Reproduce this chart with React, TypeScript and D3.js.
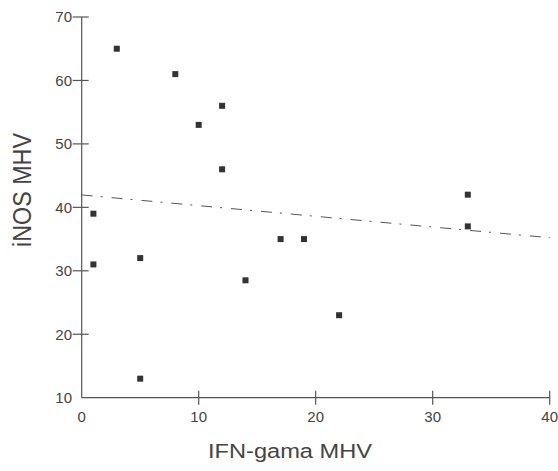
import React from 'react';
import * as d3 from 'd3';

// IFN-gama MHV (x) vs iNOS MHV (y)
const ifnGama = [3, 8, 12, 10, 12, 1, 1, 5, 5, 14, 17, 19, 22, 33, 33];
const inos = [65, 61, 56, 53, 46, 39, 31, 32, 13, 28.5, 35, 35, 23, 37, 42];
const xTicks = [0, 10, 20, 30, 40];
const yTicks = [10, 20, 30, 40, 50, 60, 70];

const W = 558;
const H = 471;

export default function App() {
  const x = d3.scaleLinear().domain([0, 40]).range([81.7, 549.7]);
  const y = d3.scaleLinear().domain([10, 70]).range([397.7, 17]);

  // least squares fit
  const mx = d3.mean(ifnGama) as number;
  const my = d3.mean(inos) as number;
  let sxy = 0;
  let sxx = 0;
  ifnGama.forEach((v, i) => {
    sxy += (v - mx) * (inos[i] - my);
    sxx += (v - mx) * (v - mx);
  });
  const slope = sxy / sxx;
  const icpt = my - slope * mx;
  const fit = d3.line<number>()
    .x(d => x(d))
    .y(d => y(icpt + slope * d));

  const axisColor = '#555';
  const textColor = '#444';
  const font = 'Arial, "Liberation Sans", sans-serif';

  return (
    <svg width={W} height={H} style={{ position: 'absolute', left: 0, top: 0, background: '#fff' }}>
      {/* axes */}
      <line x1={x(0)} x2={x(40)} y1={y(10)} y2={y(10)} stroke={axisColor} strokeWidth={1.2} />
      <line x1={x(0)} x2={x(0)} y1={y(10)} y2={y(70)} stroke={axisColor} strokeWidth={1.2} />

      {xTicks.map(t => (
        <g key={'x' + t}>
          {t !== 0 && (
            <line x1={x(t)} x2={x(t)} y1={y(10) - 7} y2={y(10) + 7} stroke={axisColor} strokeWidth={1.2} />
          )}
          <text x={x(t)} y={421.7} textAnchor="middle" fontSize={15} fill={textColor} fontFamily={font}>
            {t}
          </text>
        </g>
      ))}

      {yTicks.map(t => (
        <g key={'y' + t}>
          {t !== 10 && (
            <line x1={x(0) - 9} x2={x(0) + 7} y1={y(t)} y2={y(t)} stroke={axisColor} strokeWidth={1.2} />
          )}
          <text x={72} y={y(t)} dy="0.36em" textAnchor="end" fontSize={15} fill={textColor} fontFamily={font}>
            {t}
          </text>
        </g>
      ))}

      {/* regression line */}
      <path d={fit([0, 40]) || ''} fill="none" stroke="#555" strokeWidth={1} strokeDasharray="11,8,2,9" />

      {/* points */}
      {ifnGama.map((v, i) => (
        <rect key={i} x={x(v) - 3} y={y(inos[i]) - 3} width={6} height={6} fill="#333" />
      ))}

      {/* titles */}
      <text x={208} y={458} fontSize={20} fill={textColor} fontFamily={font} textLength={164} lengthAdjust="spacingAndGlyphs">
        IFN-gama MHV
      </text>
      <text
        transform={`translate(31,190) rotate(-90)`}
        textAnchor="middle"
        fontSize={25}
        fill={textColor}
        fontFamily={font}
        textLength={114}
        lengthAdjust="spacingAndGlyphs"
      >
        iNOS MHV
      </text>
    </svg>
  );
}
